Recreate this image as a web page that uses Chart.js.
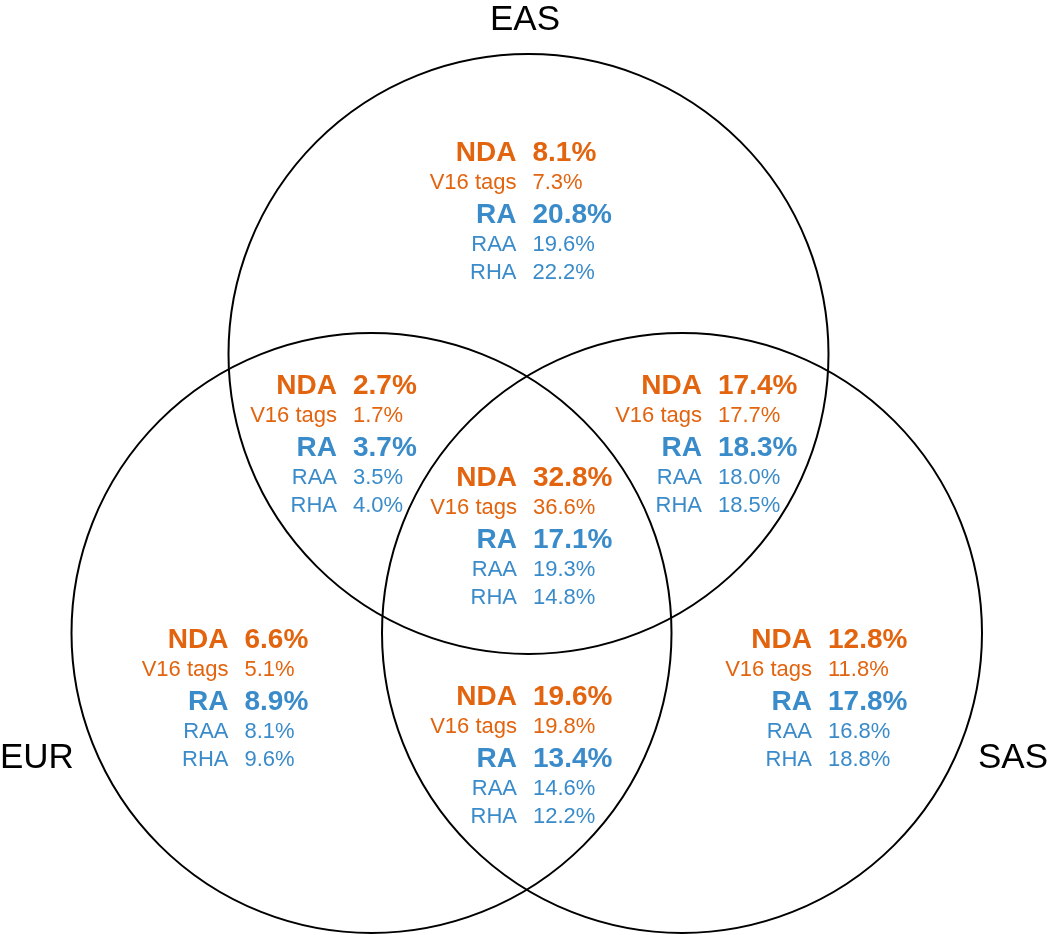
<!DOCTYPE html>
<html>
<head>
<meta charset="utf-8">
<script src="https://cdn.jsdelivr.net/npm/chart.js@4/dist/chart.umd.min.js"></script>
<style>
  html, body { margin: 0; padding: 0; background: #ffffff; }
  #wrap { width: 1050px; height: 935px; position: relative; }
</style>
</head>
<body>
<div id="wrap"><canvas id="c"></canvas></div>
<script>
// ---- Data ----
const setNames = ['EAS', 'EUR', 'SAS'];
const regions = ['EAS only', 'EAS & EUR', 'EAS & SAS', 'EAS & EUR & SAS', 'EUR only', 'EUR & SAS', 'SAS only'];
const rowLabels = ['NDA', 'V16 tags', 'RA', 'RAA', 'RHA'];
const ndaValues = [8.1, 2.7, 17.4, 32.8, 6.6, 19.6, 12.8];
const v16Values = [7.3, 1.7, 17.7, 36.6, 5.1, 19.8, 11.8];
const raValues  = [20.8, 3.7, 18.3, 17.1, 8.9, 13.4, 17.8];
const raaValues = [19.6, 3.5, 18.0, 19.3, 8.1, 14.6, 16.8];
const rhaValues = [22.2, 4.0, 18.5, 14.8, 9.6, 12.2, 18.8];

// ---- Layout (chart units; 1 unit = 100 px) ----
const circleRadius = 3.0;
const circleCenters = { EAS: [5.285, 3.54], EUR: [3.715, 6.33], SAS: [6.82, 6.33] };
const setLabelAnchors = { EAS: [5.25, 0.20, 'center'], EUR: [0.0, 7.58, 'left'], SAS: [10.48, 7.58, 'right'] };
const regionAnchors = [[5.245, 1.53], [3.45, 3.86], [7.10, 3.86], [5.25, 4.78], [2.365, 6.40], [5.25, 6.97], [8.20, 6.40]];
const rowOffsets = [0, 0.30, 0.62, 0.92, 1.20];

const ORANGE = '#e2640f';
const BLUE = '#3a8bca';
const FONT = '"Liberation Sans", Arial, Helvetica, sans-serif';
const rowStyles = [
  { color: ORANGE, font: 'bold 28px ' + FONT },
  { color: ORANGE, font: '22px ' + FONT },
  { color: BLUE, font: 'bold 28px ' + FONT },
  { color: BLUE, font: '22px ' + FONT },
  { color: BLUE, font: '22px ' + FONT }
];
const seriesByRow = [ndaValues, v16Values, raValues, raaValues, rhaValues];

const circlePoints = setNames.map(n => ({ x: circleCenters[n][0], y: circleCenters[n][1] }));

const vennText = {
  id: 'vennText',
  afterDatasetsDraw(chart) {
    const { ctx, scales: { x, y } } = chart;
    ctx.save();
    ctx.textBaseline = 'middle';
    ctx.fillStyle = '#000';
    ctx.font = '35px ' + FONT;
    setNames.forEach(n => {
      const a = setLabelAnchors[n];
      ctx.textAlign = a[2];
      ctx.fillText(n, x.getPixelForValue(a[0]), y.getPixelForValue(a[1]));
    });
    regions.forEach((r, i) => {
      const [ax, ay] = regionAnchors[i];
      const px = x.getPixelForValue(ax);
      rowLabels.forEach((lab, k) => {
        const py = y.getPixelForValue(ay + rowOffsets[k]);
        const st = rowStyles[k];
        ctx.fillStyle = st.color;
        ctx.font = st.font;
        ctx.textAlign = 'right';
        ctx.fillText(lab, px - 8, py);
        ctx.textAlign = 'left';
        ctx.fillText(seriesByRow[k][i].toFixed(1) + '%', px + 8, py);
      });
    });
    ctx.restore();
  }
};

const radiusPx = (c) => {
  const s = c.chart.scales.x;
  return Math.abs(s.getPixelForValue(circleRadius) - s.getPixelForValue(0));
};

new Chart(document.getElementById('c'), {
  type: 'scatter',
  data: {
    datasets: [{
      label: 'sets',
      data: circlePoints,
      pointStyle: 'circle',
      pointRadius: radiusPx,
      pointHoverRadius: radiusPx,
      pointBorderWidth: 2,
      pointHoverBorderWidth: 2,
      pointBorderColor: '#000',
      pointBackgroundColor: 'rgba(0,0,0,0)',
      showLine: false,
      clip: false
    }]
  },
  options: {
    responsive: true,
    maintainAspectRatio: false,
    animation: false,
    events: [],
    layout: { padding: 0 },
    plugins: { legend: { display: false }, tooltip: { enabled: false }, title: { display: false } },
    scales: {
      x: { type: 'linear', min: 0, max: 10.5, display: false },
      y: { type: 'linear', min: 0, max: 9.35, reverse: true, display: false }
    }
  },
  plugins: [vennText]
});
</script>
</body>
</html>
